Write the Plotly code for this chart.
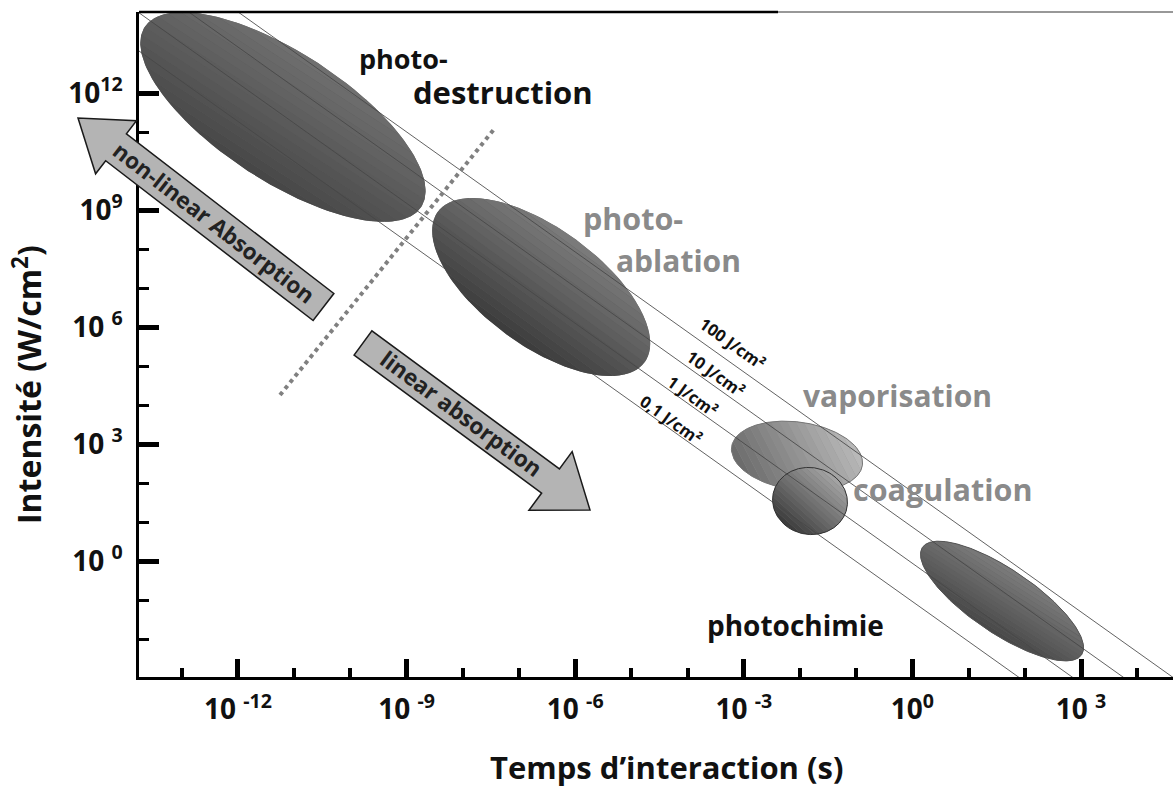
import numpy as np
import plotly.graph_objects as go

# Interaction time (s) vs intensity (W/cm²)

# constant-fluence lines, left edge (1e-14 s) to right edge (1e5 s)
FLUENCE_LABELS = ["0,1 J/cm²", "1 J/cm²", "10 J/cm²", "100 J/cm²"]
FLUENCE_T = [1e-14, 1e5]
FLUENCE_I_START = [2.1e13, 2.0e14, 1.7e15, 1.35e16]
FLUENCE_I_END = [6.8e-7, 6.5e-6, 5.5e-5, 4.4e-4]

# interaction regimes: both ends of the long axis + width / length ratio
REGIONS = ["photodestruction", "photoablation", "vaporisation", "coagulation", "photochimie"]
REGION_T1 = [2.19e-14, 3.59e-9, 6.07e-4, 3.31e-3, 1.51]
REGION_I1 = [4.9e13, 9.0e8, 847, 51.1, 2.24]
REGION_T2 = [1.82e-9, 1.72e-5, 0.129, 0.0686, 1026]
REGION_I2 = [1.2e9, 1.25e5, 286, 23.4, 3.95e-3]
REGION_RATIO = [0.39, 0.46, 0.515, 0.89, 0.333]

# boundary non-linear / linear absorption
BOUNDARY_T = [5.6e-12, 3.5e-8]
BOUNDARY_I = [1.8e4, 1.12e11]

X_TICKS = [1e-12, 1e-9, 1e-6, 1e-3, 1, 1e3]
X_EXP = ["-12", "-9", "-6", "-3", "0", "3"]
X_GAP = [" ", " ", " ", " ", "", " "]
X_MINOR = [1e-13, 1e-11, 1e-10, 1e-8, 1e-7, 1e-5, 1e-4, 1e-2, 1e-1, 10, 100, 1e4]
Y_TICKS = [1e-3, 1, 1e3, 1e6, 1e9, 1e12]
Y_EXP = ["-3", "0", "3", "6", "9", "12"]
Y_GAP = ["", " ", " ", " ", "", ""]
Y_MINOR = [1e-2, 1e-1, 10, 100, 1e4, 1e5, 1e7, 1e8, 1e10, 1e11]

# ─────────────────────────────────────────────
# style
# ─────────────────────────────────────────────
W, H = 1173, 787
L, R, T, B = 139, 0, 12, 110
PX_X, PX_Y = 56.2, 39.0   # screen px per decade (keeps ellipses round on screen)
FONT = "'Open Sans', Lato, sans-serif"
TICK_SIZE = 28

REGION_STYLE = {
    "photodestruction": dict(dark="#464646", light="#707070", grad=90, edge=None),
    "photoablation":    dict(dark="#3b3b3b", light="#7c7c7c", grad=90, edge=None),
    "vaporisation":     dict(dark="#6a6a6a", light="#bababa", grad=20, edge="#777777"),
    "coagulation":      dict(dark="#3a3a3a", light="#a6a6a6", grad=55, edge="#333333"),
    "photochimie":      dict(dark="#474747", light="#7d7d7d", grad=95, edge="#555555"),
}


def hex_rgb(h):
    h = h.lstrip("#")
    return [int(h[i:i + 2], 16) for i in (0, 2, 4)]


def mix(c0, c1, f):
    a, b = hex_rgb(c0), hex_rgb(c1)
    return "rgb({},{},{})".format(*[round(x + (y - x) * f) for x, y in zip(a, b)])


def to_screen(t, i):
    return np.array([np.log10(t) * PX_X, np.log10(i) * PX_Y])


def strip(c, a, b, g, s0, s1, n=30):
    """Part of the ellipse c + a cos + b sin lying between s0 and s1 along direction g."""
    d = np.array([np.cos(g), np.sin(g)])
    e = np.array([-np.sin(g), np.cos(g)])
    sig = np.linspace(s0, s1, n)
    tau = np.sqrt(np.clip(1 - sig ** 2, 0, None))
    w = np.vstack([sig[:, None] * d + tau[:, None] * e,
                   sig[::-1, None] * d - tau[::-1, None] * e])
    pts = c + w[:, :1] * a + w[:, 1:] * b
    return 10 ** (pts[:, 0] / PX_X), 10 ** (pts[:, 1] / PX_Y)


def paper(x, y):
    return (x - L) / (W - L - R), (H - B - y) / (H - T - B)


def block_arrow(tail, tip, body_w, head_w, head_l):
    tail, tip = np.array(tail, float), np.array(tip, float)
    d = (tip - tail) / np.linalg.norm(tip - tail)
    n = np.array([-d[1], d[0]])
    hb = tip - d * head_l
    pts = [tail + n * body_w / 2, hb + n * body_w / 2, hb + n * head_w / 2, tip,
           hb - n * head_w / 2, hb - n * body_w / 2, tail - n * body_w / 2]
    path = ""
    for k, p in enumerate(pts):
        px, py = paper(*p)
        path += ("M" if k == 0 else " L") + f"{px:.5f},{py:.5f}"
    return path + " Z"


def power_label(gap, exp):
    return f"10{gap}<sup>{exp}</sup>"


fig = go.Figure()

# ─────────────────────────────────────────────
# regime ellipses
# ─────────────────────────────────────────────
N_STRIPS = 16
for k, name in enumerate(REGIONS):
    st = REGION_STYLE[name]
    p1 = to_screen(REGION_T1[k], REGION_I1[k])
    p2 = to_screen(REGION_T2[k], REGION_I2[k])
    c = (p1 + p2) / 2
    a = (p2 - p1) / 2
    b = np.array([-a[1], a[0]]) * REGION_RATIO[k]
    g = np.radians(st["grad"])

    x, y = strip(c, a, b, g, -1, 1, 160)
    fig.add_trace(go.Scatter(x=x, y=y, mode="lines", fill="toself",
                             fillcolor=mix(st["dark"], st["light"], 0.5),
                             line=dict(width=0), hoverinfo="skip"))
    edges = np.linspace(-1, 1, N_STRIPS + 1)
    for j in range(N_STRIPS):
        x, y = strip(c, a, b, g, edges[j], edges[j + 1])
        fig.add_trace(go.Scatter(x=x, y=y, mode="lines", fill="toself",
                                 fillcolor=mix(st["dark"], st["light"], (j + 0.5) / N_STRIPS),
                                 line=dict(width=0), hoverinfo="skip"))
    if st["edge"]:
        x, y = strip(c, a, b, g, -1, 1, 160)
        fig.add_trace(go.Scatter(x=x, y=y, mode="lines",
                                 line=dict(color=st["edge"], width=1), hoverinfo="skip"))

# ─────────────────────────────────────────────
# fluence lines + separation line
# ─────────────────────────────────────────────
for k, lab in enumerate(FLUENCE_LABELS):
    fig.add_trace(go.Scatter(x=FLUENCE_T, y=[FLUENCE_I_START[k], FLUENCE_I_END[k]],
                             mode="lines", name=lab,
                             line=dict(color="rgba(70,70,70,0.85)", width=1),
                             hoverinfo="skip"))

fig.add_trace(go.Scatter(x=BOUNDARY_T, y=BOUNDARY_I, mode="lines",
                         line=dict(color="#808080", width=4, dash="dot"), hoverinfo="skip"))

# ─────────────────────────────────────────────
# block arrows
# ─────────────────────────────────────────────
arrow_style = dict(type="path", xref="paper", yref="paper", fillcolor="#b4b4b4",
                   line=dict(color="#1a1a1a", width=1.5), layer="above")
fig.add_shape(path=block_arrow((323.5, 307), (78, 118), 34, 67, 48), **arrow_style)
fig.add_shape(path=block_arrow((363, 343), (590, 510), 30, 73, 49), **arrow_style)

# top frame line
fig.add_shape(type="line", xref="paper", yref="paper", x0=0, x1=0.618, y0=1, y1=1,
              line=dict(color="black", width=2.5))
fig.add_shape(type="line", xref="paper", yref="paper", x0=0.618, x1=1, y0=1, y1=1,
              line=dict(color="#333333", width=1.2))

# ─────────────────────────────────────────────
# texts
# ─────────────────────────────────────────────
BLACK, GRAY = "#111111", "#8a8a8a"
texts = [
    ("photo-", 403, 58, 27, BLACK, 0),
    ("destruction", 503, 92, 31, BLACK, 0),
    ("photo-", 633, 218, 30.5, GRAY, 0),
    ("ablation", 678, 260, 30, GRAY, 0),
    ("vaporisation", 897, 396, 30, GRAY, 0),
    ("coagulation", 942, 489, 30.5, GRAY, 0),
    ("photochimie", 795, 625, 28, BLACK, 0),
    ("non-linear Absorption", 214, 222, 22.5, "#222222", 37.6),
    ("linear absorption", 461, 414, 22.5, "#222222", 36.4),
    ("100 J/cm²", 733, 343, 16.5, BLACK, 35.5),
    ("10 J/cm²", 716, 373, 16.5, BLACK, 35.5),
    ("1 J/cm²", 692, 396, 16.5, BLACK, 35.5),
    ("0,1 J/cm²", 671, 419, 16.5, BLACK, 35.5),
]
for txt, x, y, size, color, ang in texts:
    px, py = paper(x, y)
    fig.add_annotation(x=px, y=py, xref="paper", yref="paper", text=txt, showarrow=False,
                       textangle=ang, xanchor="center", yanchor="middle",
                       font=dict(family=FONT, size=size, color=color, weight=700))

px, py = paper(27, 385)
fig.add_annotation(x=px, y=py, xref="paper", yref="paper", text="Intensité (W/cm<sup>2</sup>)",
                   showarrow=False, textangle=-90, xanchor="center", yanchor="middle",
                   font=dict(family=FONT, size=32, color=BLACK, weight=700))
px, py = paper(666, 767)
fig.add_annotation(x=px, y=py, xref="paper", yref="paper", text="Temps d’interaction (s)",
                   showarrow=False, xanchor="center", yanchor="middle",
                   font=dict(family=FONT, size=31, color=BLACK, weight=700))

# ─────────────────────────────────────────────
# axes
# ─────────────────────────────────────────────
axis_common = dict(
    type="log", showgrid=False, zeroline=False, showline=True,
    linecolor="black", linewidth=2.5, ticks="inside", tickcolor="black",
)
tick_font = dict(family=FONT, size=TICK_SIZE, color="#111111", weight=700)
fig.update_layout(
    width=W, height=H,
    margin=dict(l=L, r=R, t=T, b=B),
    paper_bgcolor="white", plot_bgcolor="white",
    showlegend=False, hovermode=False,
    xaxis=dict(**axis_common, range=[-13.761, 4.637], tickvals=X_TICKS,
               ticktext=[power_label(g, e) for g, e in zip(X_GAP, X_EXP)],
               tickfont=tick_font,
               ticklen=18, tickwidth=5, ticklabelstandoff=6,
               minor=dict(tickvals=X_MINOR, ticks="inside", ticklen=9, tickwidth=4,
                          tickcolor="black", showgrid=False)),
    yaxis=dict(**axis_common, range=[-2.974, 14.077], tickvals=Y_TICKS,
               ticktext=[power_label(g, e) for g, e in zip(Y_GAP, Y_EXP)],
               tickfont=tick_font,
               ticklen=20, tickwidth=5, ticklabelstandoff=8,
               minor=dict(tickvals=Y_MINOR, ticks="inside", ticklen=10, tickwidth=3,
                          tickcolor="black", showgrid=False)),
)

fig.write_html("out.html", config={"displayModeBar": False},
               post_script="document.body.style.margin='0';document.body.style.overflow='hidden';")
